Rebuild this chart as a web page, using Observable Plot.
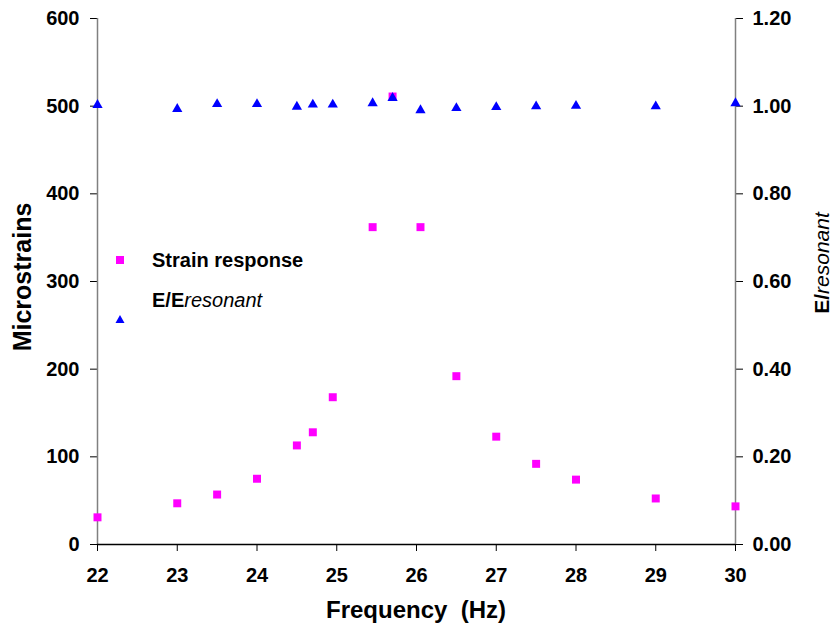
<!DOCTYPE html>
<html>
<head>
<meta charset="utf-8">
<script src="https://cdn.jsdelivr.net/npm/d3@7"></script>
<script src="https://cdn.jsdelivr.net/npm/@observablehq/plot@0.6"></script>
<style>
  html, body { margin: 0; padding: 0; background: #fff; }
  #wrap { position: relative; width: 831px; height: 628px; font-family: "Liberation Sans", Arial, sans-serif; }
  .leg { position: absolute; font-weight: bold; font-size: 20px; line-height: 24px; color: #000; white-space: nowrap; }
  .ttl { position: absolute; font-weight: bold; color: #000; white-space: nowrap; line-height: 1; }
</style>
</head>
<body>
<div id="wrap"></div>
<script>
// Frequency (Hz)
const frequency = [22, 23, 23.5, 24, 24.5, 24.7, 24.95, 25.45, 25.7, 26.05, 26.5, 27, 27.5, 28, 29, 30];
// Strain response (microstrains)
const strain = [31, 47, 57, 75, 113, 128, 168, 362, 511, 362, 192, 123, 92, 74, 52.5, 43.5];
// E/E resonant
const eRatio = [1.005, 0.996, 1.007, 1.007, 1.001, 1.006, 1.006, 1.009, 1.021, 0.993, 0.998, 1.000, 1.002, 1.003, 1.002, 1.009];

const leftTicks = [0, 100, 200, 300, 400, 500, 600];
const xTicks = [22, 23, 24, 25, 26, 27, 28, 29, 30];
const ratioToStrain = 500; // 1.20 on right axis <-> 600 on left axis

const strainData = frequency.map((f, i) => ({f, v: strain[i]}));
const ratioData = frequency.map((f, i) => ({f, v: eRatio[i] * ratioToStrain}));

const plot = Plot.plot({
  width: 831,
  height: 628,
  marginLeft: 97,
  marginRight: 96,
  marginTop: 18,
  marginBottom: 84,
  style: {fontFamily: '"Liberation Sans", Arial, sans-serif', background: "#fff", fontSize: "20px", fontWeight: "bold"},
  x: {domain: [22, 30]},
  y: {domain: [0, 600]},
  marks: [
    Plot.axisX({ticks: xTicks, tickSize: 7, tickPadding: 16, label: null, fontSize: 20, fontWeight: "bold", stroke: "#000", color: "#000"}),
    Plot.axisY({ticks: leftTicks, anchor: "left", tickSize: 7, tickPadding: 11, label: null, fontSize: 20, fontWeight: "bold", stroke: "#000", color: "#000"}),
    Plot.axisY({ticks: leftTicks, anchor: "right", tickSize: 7, tickPadding: 10, label: null, fontSize: 20, fontWeight: "bold", stroke: "#000", color: "#000",
      tickFormat: d => (d / ratioToStrain).toFixed(2)}),
    Plot.ruleX([22], {stroke: "#808080", strokeWidth: 1.5}),
    Plot.ruleX([30], {stroke: "#808080", strokeWidth: 1.5}),
    Plot.ruleY([0], {stroke: "#000", strokeWidth: 1.5}),
    Plot.dot(strainData, {x: "f", y: "v", symbol: "square", r: 4.5, fill: "#FF00FF", stroke: "none"}),
    Plot.dot(ratioData, {x: "f", y: "v", symbol: "triangle", r: 3.8, fill: "#0000FF", stroke: "none", dy: 1})
  ]
});

const wrap = document.getElementById("wrap");
wrap.appendChild(plot);

function add(html, cls, css) {
  const d = document.createElement("div");
  d.className = cls;
  d.innerHTML = html;
  Object.assign(d.style, css);
  wrap.appendChild(d);
  return d;
}

// Legend (inside plot area)
add('<svg width="10" height="10" style="display:block"><rect x="1" y="1" width="8" height="8" fill="#FF00FF"/></svg>', "leg", {left: "115px", top: "255px", lineHeight: "0"});
add('Strain response', "leg", {left: "152px", top: "248px"});
add('<svg width="10" height="10" style="display:block"><path d="M5,1 L9.5,9 L0.5,9 Z" fill="#0000FF"/></svg>', "leg", {left: "115px", top: "314px", lineHeight: "0"});
add('E/E<span style="font-weight:normal;font-style:italic">resonant</span>', "leg", {left: "152px", top: "288px"});

// Axis titles
add('Frequency&nbsp;&nbsp;(Hz)', "ttl", {fontSize: "24px", left: "416px", top: "610px", transform: "translate(-50%,-50%)"});
add('Microstrains', "ttl", {fontSize: "25px", left: "22px", top: "277px", transform: "translate(-50%,-50%) rotate(-90deg)"});
add('E/<span style="font-weight:normal;font-style:italic">resonant</span>', "ttl", {fontSize: "21px", left: "821px", top: "263px", transform: "translate(-50%,-50%) rotate(-90deg)"});
</script>
</body>
</html>
